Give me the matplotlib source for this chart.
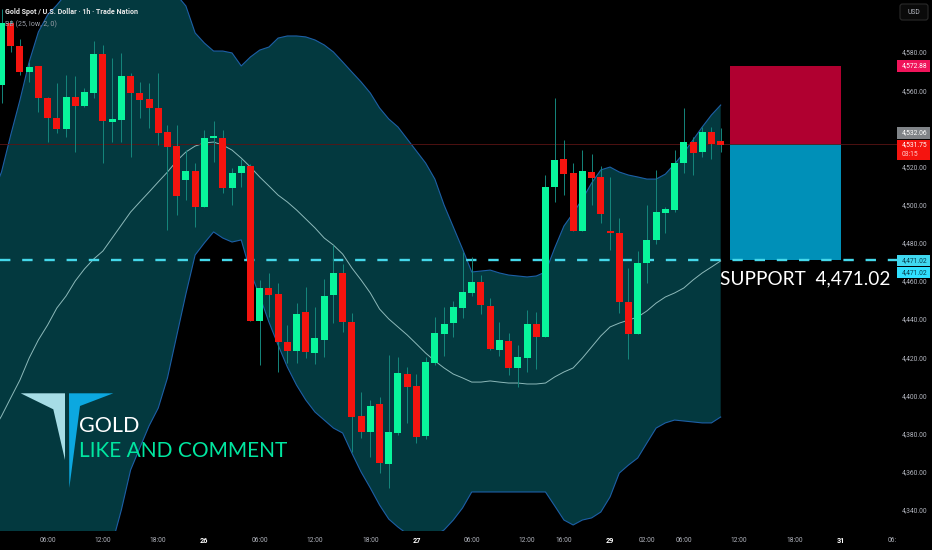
import matplotlib
matplotlib.use('Agg')
import matplotlib.pyplot as plt
from matplotlib.patches import Polygon, Rectangle, FancyBboxPatch

plt.rcParams['font.family'] = ['Roboto', 'DejaVu Sans']

# hourly gold candles, bar 0 is the first one on screen
opens = [4562.7, 4595.2, 4583.2, 4569.5, 4572.7, 4555.9, 4545.4, 4539.6, 4556.4, 4551.7,
         4558.5, 4579.0, 4543.3, 4544.4, 4567.4, 4558.5, 4555.4, 4550.7, 4538.1, 4530.7,
         4512.9, 4517.6, 4498.8, 4534.9, 4534.9, 4508.7, 4516.6, 4520.2, 4439.0, 4456.3,
         4453.2, 4428.0, 4423.3, 4443.7, 4422.2, 4429.1, 4452.6, 4464.2, 4438.5, 4389.2,
         4380.8, 4395.5, 4364.1, 4380.3, 4411.2, 4404.9, 4378.7, 4417.0, 4432.2, 4437.9,
         4445.8, 4453.7, 4459.5, 4446.9, 4423.8, 4428.5, 4414.4, 4419.6, 4437.4, 4430.6,
         4509.2, 4523.9, 4516.6, 4486.2, 4517.1, 4514.5, 4486.2, 4485.1, 4449.0, 4432.2,
         4469.4, 4481.5, 4495.6, 4497.2, 4521.8, 4532.8, 4527.6, 4538.1, 4533.3]
highs = [4602.5, 4596.8, 4586.8, 4574.8, 4572.7, 4556.4, 4563.8, 4567.9, 4567.4, 4561.1,
         4585.8, 4583.7, 4576.9, 4579.5, 4569.0, 4564.3, 4563.8, 4569.0, 4541.7, 4541.7,
         4528.6, 4521.8, 4539.1, 4543.8, 4539.1, 4519.2, 4523.9, 4521.3, 4460.5, 4464.2,
         4458.9, 4436.9, 4448.4, 4456.8, 4446.4, 4461.0, 4478.8, 4468.9, 4443.2, 4401.8,
         4397.6, 4399.2, 4421.2, 4420.2, 4414.9, 4411.2, 4420.2, 4441.1, 4446.4, 4449.5,
         4475.2, 4472.6, 4463.1, 4451.1, 4438.5, 4432.7, 4426.4, 4444.8, 4443.7, 4515.5,
         4555.9, 4533.9, 4521.8, 4528.6, 4526.5, 4520.2, 4514.5, 4493.0, 4466.8, 4475.7,
         4499.8, 4518.2, 4498.8, 4528.6, 4550.7, 4535.4, 4540.7, 4540.7, 4540.2]
lows = [4553.3, 4580.0, 4567.9, 4564.3, 4548.6, 4532.8, 4537.6, 4535.4, 4527.6, 4551.2,
        4555.9, 4521.8, 4532.8, 4532.8, 4525.0, 4545.4, 4540.2, 4531.2, 4486.7, 4494.6,
        4502.4, 4488.3, 4498.8, 4522.3, 4506.1, 4499.8, 4509.2, 4439.0, 4415.9, 4441.1,
        4412.3, 4417.0, 4417.0, 4419.6, 4416.5, 4420.2, 4437.9, 4433.3, 4370.3, 4377.7,
        4367.7, 4359.3, 4351.5, 4379.2, 4385.6, 4375.1, 4377.2, 4415.9, 4420.7, 4430.6,
        4440.6, 4452.1, 4442.7, 4423.8, 4420.7, 4410.7, 4404.4, 4412.3, 4413.9, 4430.6,
        4501.4, 4505.0, 4486.2, 4486.2, 4499.8, 4490.4, 4476.2, 4443.2, 4419.1, 4432.2,
        4458.9, 4479.4, 4485.1, 4496.1, 4516.6, 4515.5, 4525.0, 4523.9, 4527.6]
closes = [4595.2, 4583.2, 4569.5, 4572.1, 4555.9, 4545.4, 4539.6, 4556.4, 4551.7, 4559.0,
          4579.0, 4543.8, 4544.9, 4567.4, 4558.5, 4554.8, 4550.7, 4537.6, 4530.2, 4504.5,
          4517.6, 4498.8, 4534.9, 4536.0, 4508.7, 4516.6, 4520.2, 4439.0, 4456.3, 4452.6,
          4428.0, 4423.3, 4442.7, 4422.8, 4430.1, 4452.1, 4464.2, 4438.5, 4388.7, 4380.8,
          4394.5, 4364.6, 4380.8, 4411.8, 4404.4, 4378.2, 4417.5, 4432.7, 4437.4, 4446.4,
          4454.2, 4459.5, 4447.4, 4424.3, 4429.1, 4414.4, 4420.2, 4437.4, 4430.6, 4509.2,
          4523.4, 4516.0, 4486.2, 4517.6, 4514.0, 4495.1, 4485.1, 4449.0, 4432.2, 4469.4,
          4481.5, 4496.1, 4497.7, 4521.8, 4532.8, 4527.1, 4538.1, 4531.8, 4531.2]

# BB(25), one value per bar, starting one bar left of the screen
bb_upper = [4505.0, 4517.1, 4536.5, 4554.8, 4574.8, 4590.5, 4599.4, 4604.6, 4610.4, 4613.5,
            4616.7, 4618.8, 4620.4, 4620.9, 4620.9, 4620.4, 4619.8, 4618.8, 4616.7, 4614.6,
            4609.9, 4604.1, 4590.0, 4584.7, 4580.5, 4580.5, 4579.5, 4572.7, 4577.4, 4581.0,
            4582.6, 4587.3, 4588.4, 4588.4, 4587.9, 4586.3, 4583.7, 4580.0, 4574.8, 4569.5,
            4564.3, 4558.5, 4550.7, 4544.9, 4540.7, 4534.4, 4528.1, 4521.8, 4513.4, 4499.8,
            4488.3, 4476.8, 4464.7, 4465.2, 4465.7, 4464.2, 4463.1, 4462.6, 4462.1, 4462.6,
            4464.7, 4477.3, 4488.8, 4495.6, 4502.9, 4511.3, 4518.2, 4519.7, 4517.1, 4515.5,
            4514.5, 4513.4, 4513.4, 4516.0, 4521.3, 4527.1, 4533.9, 4540.7, 4547.0, 4552.2]
bb_lower = [4271.8, 4271.8, 4271.8, 4274.5, 4277.1, 4279.7, 4282.3, 4287.6, 4292.8, 4298.0,
            4303.3, 4308.5, 4315.3, 4322.2, 4340.0, 4360.9, 4372.5, 4384.0, 4393.4, 4409.2,
            4431.2, 4453.2, 4473.6, 4479.9, 4485.7, 4482.5, 4480.4, 4481.5, 4464.7, 4452.1,
            4438.5, 4426.4, 4414.9, 4405.4, 4397.6, 4391.3, 4387.1, 4382.9, 4380.3, 4369.8,
            4359.9, 4351.5, 4342.6, 4335.2, 4331.0, 4327.4, 4325.8, 4325.8, 4326.8, 4329.5,
            4334.7, 4341.0, 4349.4, 4349.4, 4349.4, 4349.4, 4349.4, 4349.4, 4349.4, 4349.4,
            4349.4, 4342.1, 4334.7, 4332.1, 4334.7, 4335.8, 4338.9, 4346.8, 4359.3, 4363.5,
            4367.2, 4375.1, 4382.9, 4385.6, 4387.1, 4386.6, 4386.1, 4385.6, 4385.6, 4388.7]
bb_mid = [4380.8, 4389.2, 4398.7, 4408.1, 4419.6, 4429.1, 4436.9, 4445.8, 4452.1, 4460.0,
          4466.3, 4471.5, 4475.7, 4482.5, 4489.3, 4496.1, 4501.4, 4506.6, 4511.9, 4517.1,
          4522.9, 4527.6, 4530.7, 4532.3, 4532.8, 4531.2, 4528.6, 4524.4, 4519.7, 4514.5,
          4509.8, 4505.0, 4501.4, 4497.2, 4492.5, 4487.8, 4482.5, 4478.8, 4474.1, 4466.8,
          4460.5, 4453.7, 4445.3, 4440.1, 4435.9, 4431.7, 4427.0, 4422.2, 4418.1, 4414.4,
          4411.2, 4409.2, 4407.0, 4407.0, 4407.6, 4407.0, 4406.5, 4406.5, 4406.0, 4406.0,
          4406.5, 4409.7, 4412.3, 4414.4, 4419.6, 4425.4, 4431.2, 4435.9, 4437.9, 4439.5,
          4441.1, 4444.3, 4448.4, 4451.6, 4453.7, 4456.3, 4460.5, 4464.2, 4467.3, 4470.5]

price_ticks = [4340, 4360, 4380, 4400, 4420, 4440, 4460, 4480, 4500, 4520, 4540, 4560, 4580]
time_ticks = [5, 11, 17, 22, 28, 34, 40, 45, 51, 57, 61, 66, 70, 74, 80, 86, 91, 96.6]
time_labels = ['06:00', '12:00', '18:00', '26', '06:00', '12:00', '18:00', '27', '06:00', '12:00',
               '16:00', '29', '02:00', '06:00', '12:00', '18:00', '31', '06:']

last_price = 4531.75
entry_bar, exit_bar = 79, 91
target_price = 4572.88
support_price = 4471.02

GREEN = '#08f59c'
RED = '#f5140f'
TEAL = '#03393f'

bars = list(range(len(opens)))
band_bars = list(range(-1, len(opens)))

fig = plt.figure(figsize=(9.32, 5.5), dpi=100, facecolor='black')
ax = fig.add_axes([0, 19 / 550, 1, 531 / 550], facecolor='black')

# bollinger cloud and its lines
ax.fill_between(band_bars, bb_lower, bb_upper, color=TEAL, lw=0, zorder=1)
ax.plot(band_bars, bb_upper, color='#1d5fa6', lw=0.8, zorder=2)
ax.plot(band_bars, bb_lower, color='#1d5fa6', lw=0.8, zorder=2)
ax.plot(band_bars, bb_mid, color='#8db9ba', lw=0.7, zorder=2)

# short position box
ax.fill_between([entry_bar, exit_bar], last_price, target_price, color='#b00030', lw=0, zorder=2)
ax.fill_between([entry_bar, exit_bar], support_price, last_price, color='#0090b8', lw=0, zorder=2)

# price lines
ax.plot([-1, 97.1], [last_price, last_price], color='#5a1414', lw=0.6, zorder=3)
ax.plot([-0.16, 97.1], [support_price, support_price], color='#45d8ea', lw=1.7,
        dashes=(4.4, 5.0), zorder=3)

# candles
colors = [GREEN if c >= o else RED for o, c in zip(opens, closes)]
ax.vlines(bars, lows, highs, color='#15877c', lw=0.7, zorder=4)
ax.bar(bars, [abs(c - o) for o, c in zip(opens, closes)],
       bottom=[min(o, c) for o, c in zip(opens, closes)],
       width=0.76, color=colors, lw=0, zorder=5)

ax.set_xlim(-0.163, 100.92)
ax.set_ylim(4328.95, 4607.25)
for side in ax.spines.values():
    side.set_visible(False)

ax.yaxis.tick_right()
ax.set_yticks(price_ticks)
ax.set_yticklabels([f'{p:,.2f}' for p in price_ticks], fontsize=4.9, color='#b2b5be')
ax.tick_params(axis='y', length=0, pad=-21.8)

ax.set_xticks(time_ticks)
ax.set_xticklabels(time_labels, fontsize=4.8, color='#b2b5be')
ax.tick_params(axis='x', length=0, pad=4)
for label, text in zip(ax.get_xticklabels(), time_labels):
    if ':' not in text:
        label.set_color('white')
        label.set_fontweight('bold')
        label.set_fontsize(5.2)

# everything that sits on top of the chart, in pixels
over = fig.add_axes([0, 0, 1, 1], facecolor='none')
over.set_xlim(0, 932)
over.set_ylim(550, 0)
over.axis('off')

over.text(5, 12, 'Gold Spot / U.S. Dollar · 1h · Trade Nation', color='#e8e8e8', fontsize=5.1,
          fontweight='bold', va='center')
over.text(5, 24, 'BB (25, low, 2, 0)', color='#9a9ea8', fontsize=5.1, va='center')

# logo
over.add_patch(Polygon([(20.7, 393.3), (65, 393.3), (65, 460), (53.3, 409.3)], color='#a6dde6', lw=0))
over.add_patch(Polygon([(69, 393.3), (113.3, 393.3), (80, 406), (69.3, 488)], color='#0ca8e0', lw=0))
over.text(79, 426, 'GOLD', color='white', fontsize=15.5, va='center', family=['Lato', 'DejaVu Sans'])
over.text(79, 451, 'LIKE AND COMMENT', color='#00e6a0', fontsize=15, va='center',
          family=['Lato', 'DejaVu Sans'])
over.text(720, 279, 'SUPPORT  4,471.02', color='white', fontsize=13.7, va='center',
          family=['Lato', 'DejaVu Sans'])

# USD button and price tags on the scale
over.add_patch(FancyBboxPatch((900, 4), 28, 16, boxstyle='round,pad=0,rounding_size=2.5',
                              facecolor='#0a0a0a', edgecolor='#2a2a2a', lw=0.8))
over.text(914, 12, 'USD', color='#b2b5be', fontsize=4.9, ha='center', va='center')

tag_x, tag_w = 897, 33
tags = [(60, 72, '#f0145a', '4,572.88', 'white'),
        (127, 139, '#808488', '4,532.06', 'white'),
        (255, 266, '#40d8f0', '4,471.02', '#06404f'),
        (267, 278, '#30e0ff', '4,471.02', '#06404f')]
for top, bottom, color, text, text_color in tags:
    over.add_patch(Rectangle((tag_x, top), tag_w, bottom - top, color=color, lw=0))
    over.text(927, (top + bottom) / 2, text, color=text_color, fontsize=4.9, ha='right', va='center')
over.add_patch(Rectangle((tag_x, 140), tag_w, 20, color=RED, lw=0))
over.text(927, 145, '4,531.75', color='white', fontsize=4.9, ha='right', va='center')
over.text(902, 154.5, '03:15', color='#ffd0d0', fontsize=4.9, ha='left', va='center')

fig.savefig('out.png', dpi=100, facecolor='black')
